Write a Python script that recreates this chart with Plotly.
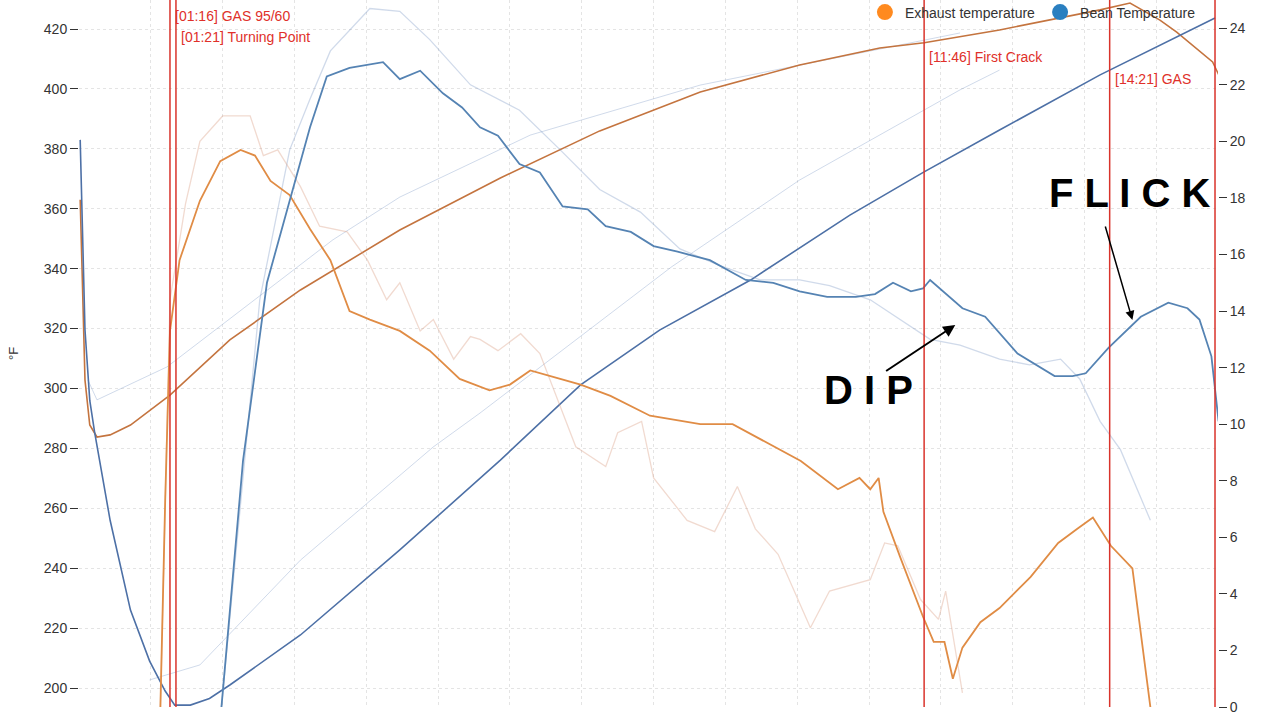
import plotly.graph_objects as go

# Bean temperature (left axis, degF), time in seconds
bean_t = [1,5,9,13,26,43,59,72,80,93,109,126,185,268,352,419,485,561,644,706,769,853,949]
bean_f = [383,319.5,296,285.5,256,226,209,199,194.3,194.3,196.5,201,217.7,246.1,276.1,301.2,319.5,336.2,357.9,372.3,386.3,404.7,423.7]

# Exhaust temperature (left axis)
exh_t = [1,5,9,15,26,43,76,126,185,268,352,435,519,602,669,706,769,811,853,878,903,917,947,953]
exh_f = [363,302.8,287.8,283.8,284.5,287.8,297.8,316.2,332.9,352.9,370.3,386,399,408,413.7,415.4,419.7,423,426.4,428.7,423,419,409,404]

# Exhaust rate of rise (right axis)
exh_ror_t = [68,72,76,84,101,118,135,147,160,176,193,210,226,243,268,293,318,343,360,377,402,419,444,477,519,546,603,634,652,661,668,672,686,705,714,723,730,738,753,769,795,818,834,847,862,876,880,895]
exh_ror = [0,7.3,13.3,15.8,17.9,19.3,19.7,19.5,18.6,18.1,16.9,15.8,14.0,13.7,13.3,12.6,11.6,11.2,11.4,11.9,11.6,11.4,11.0,10.3,10.0,10.0,8.7,7.7,8.1,7.7,8.1,6.9,5.3,3.2,2.3,2.3,1.0,2.1,3.0,3.5,4.6,5.8,6.3,6.7,5.7,5.1,4.9,0]

# Bean rate of rise (right axis)
bean_ror_t = [119,137,157,176,193,207,226,254,268,285,304,320,335,350,368,385,404,425,440,461,480,500,527,557,580,602,625,649,665,680,695,705,711,738,757,784,815,830,841,860,887,910,926,936,946,952]
bean_ror = [0,8.7,15.0,17.9,20.5,22.3,22.6,22.8,22.2,22.5,21.7,21.2,20.5,20.2,19.2,18.9,17.7,17.6,17.0,16.8,16.3,16.1,15.8,15.1,15.0,14.7,14.5,14.5,14.6,15.0,14.7,14.8,15.1,14.1,13.8,12.5,11.7,11.7,11.8,12.7,13.8,14.3,14.1,13.7,12.4,10.1]

# Reference profile (faded)
ref_bean_ror_t = [119,135,151,176,193,210,243,268,293,327,368,402,435,469,502,536,569,602,627,661,686,711,736,769,794,820,836,853,870,895]
ref_bean_ror = [0,7.3,14.4,19.7,21.5,23.2,24.7,24.6,23.6,22.0,21.1,19.7,18.3,17.5,16.2,15.6,15.1,15.1,14.9,14.4,13.7,13.0,12.8,12.3,12.1,12.3,11.6,10.1,9.1,6.6]
ref_exh_ror_t = [68,76,89,101,120,143,154,166,185,201,224,241,257,268,285,296,313,327,335,350,369,385,415,440,450,470,480,508,531,550,565,584,611,627,661,673,684,703,718,724,738]
ref_exh_ror = [0,14.4,17.8,20.0,20.9,20.9,19.5,19.7,18.4,17.0,16.8,15.8,14.4,15.0,13.3,13.7,12.3,13.1,13.0,12.6,13.2,12.5,9.2,8.5,9.7,10.1,8.1,6.6,6.2,7.8,6.3,5.4,2.8,4.1,4.5,5.8,5.7,3.8,3.1,4.1,0.5]
ref_exh_t = [7.5,15,73.5,212,268,377,519,736]
ref_exh_f = [302.8,296.2,307.2,349.6,363.9,384.6,401.3,418.7]
ref_bean_t = [59,101,185,296,335,495,602,736,769]
ref_bean_f = [202.7,207.7,242.7,280.5,291.8,340.6,369.6,399.7,406.3]

# Events
event_t = [76,81,706,861,949]
event_labels = ["[01:16] GAS 95/60","[01:21] Turning Point","[11:46] First Crack","[14:21] GAS",""]
event_label_f = [424.4,417.4,410.7,403.4,None]

fig = go.Figure()
faint_b = "rgba(120,150,195,0.35)"
faint_o = "rgba(215,150,120,0.35)"
fig.add_trace(go.Scatter(x=ref_exh_t, y=ref_exh_f, mode="lines", line=dict(color=faint_b, width=1), showlegend=False))
fig.add_trace(go.Scatter(x=ref_bean_t, y=ref_bean_f, mode="lines", line=dict(color=faint_b, width=1), showlegend=False))
fig.add_trace(go.Scatter(x=ref_bean_ror_t, y=ref_bean_ror, yaxis="y2", mode="lines", line=dict(color=faint_b, width=1.3), showlegend=False))
fig.add_trace(go.Scatter(x=ref_exh_ror_t, y=ref_exh_ror, yaxis="y2", mode="lines", line=dict(color=faint_o, width=1.3), showlegend=False))
fig.add_trace(go.Scatter(x=exh_t, y=exh_f, mode="lines", line=dict(color="#c4743f", width=1.6), showlegend=False))
fig.add_trace(go.Scatter(x=bean_t, y=bean_f, mode="lines", line=dict(color="#4d70a6", width=1.6), showlegend=False))
fig.add_trace(go.Scatter(x=exh_ror_t, y=exh_ror, yaxis="y2", mode="lines", line=dict(color="#e08c45", width=1.8), showlegend=False))
fig.add_trace(go.Scatter(x=bean_ror_t, y=bean_ror, yaxis="y2", mode="lines", line=dict(color="#5583b3", width=1.8), showlegend=False))
fig.add_trace(go.Scatter(x=[None], y=[None], mode="markers", marker=dict(color="#ff8a1f", size=17), name="Exhaust temperature"))
fig.add_trace(go.Scatter(x=[None], y=[None], mode="markers", marker=dict(color="#2a7fc0", size=17), name="Bean Temperature"))

for t in event_t:
    fig.add_shape(type="line", x0=t, x1=t, y0=0, y1=1, yref="paper", xref="x", line=dict(color="#d9332b", width=1.5))
for t, lab, f in zip(event_t, event_labels, event_label_f):
    if lab:
        fig.add_annotation(x=t, y=f, text=lab, showarrow=False, xanchor="left", xshift=3,
                           font=dict(color="#e0302a", size=14, family="Liberation Sans"))

big = dict(family="Liberation Sans", size=40, color="black")
fig.add_annotation(x=(868-79)/1.197, y=200+(688-390)/2.995, text="<b>D I P</b>", showarrow=False, font=big)
fig.add_annotation(x=(1130-79)/1.197, y=200+(688-193)/2.995, text="<b>F L I C K</b>", showarrow=False, font=big)
fig.add_annotation(x=732, y=321.2, ax=673, ay=305.5, axref="x", ayref="y", text="", showarrow=True,
                   arrowhead=2, arrowsize=1.2, arrowwidth=2, arrowcolor="black")
fig.add_annotation(x=880, y=322.9, ax=857, ay=354.6, axref="x", ayref="y", text="", showarrow=True,
                   arrowhead=2, arrowsize=1.2, arrowwidth=1.5, arrowcolor="black")

grid = dict(showgrid=True, gridcolor="#e4e4e4", griddash="dot", gridwidth=1)
fig.update_layout(
    width=1280, height=720, margin=dict(l=79, r=62, t=0, b=13, autoexpand=False),
    paper_bgcolor="white", plot_bgcolor="white",
    font=dict(family="Liberation Sans", color="#333", size=14),
    xaxis=dict(range=[0, 951.5], tick0=0, dtick=60, showticklabels=False, zeroline=False, automargin=False, **grid),
    yaxis=dict(range=[193.66, 429.7], tick0=200, dtick=20, ticks="outside", ticklen=8, tickcolor="#333",
               title=dict(text="°F", font=dict(size=13, color="#333"), standoff=22), zeroline=False, automargin=False, **grid),
    yaxis2=dict(range=[0, 25], overlaying="y", side="right", tick0=0, dtick=2, ticks="outside", ticklen=8,
                tickcolor="#333", showgrid=False, zeroline=False, automargin=False),
    legend=dict(orientation="h", x=0.985, xanchor="right", y=1.005, yanchor="top", bgcolor="rgba(0,0,0,0)",
                font=dict(size=14)),
)
fig.write_html("out.html", config={"displayModeBar": False},
               post_script="document.body.style.margin='0';document.body.style.overflow='hidden';document.body.style.background='linear-gradient(to right, black 18px, white 18px, white 1262px, black 1262px)';")
